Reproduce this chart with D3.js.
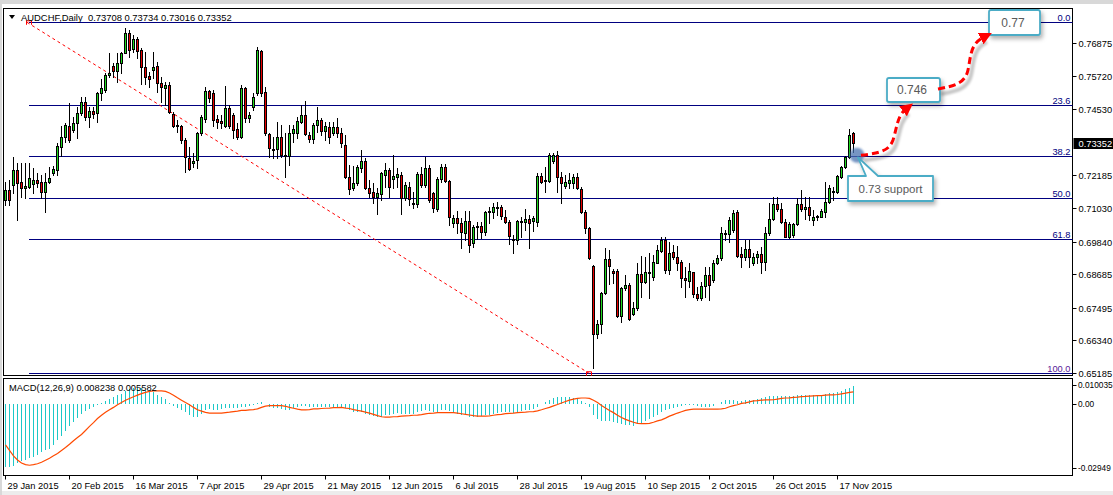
<!DOCTYPE html>
<html><head><meta charset="utf-8">
<script src="https://cdn.jsdelivr.net/npm/d3@7"></script>
<style>
html,body{margin:0;padding:0;background:#fff;overflow:hidden}
svg{display:block}
</style></head><body><svg id="c" width="1113" height="495"></svg>
<script>
// ---------------- DATA ----------------
const symbol = "AUDCHF,Daily";
const lastQuote = [0.73708, 0.73734, 0.73016, 0.73352];
const open = [0.71314,0.71669,0.71846,0.72379,0.71941,0.71728,0.71787,0.71870,0.72024,0.71964,
0.71586,0.71964,0.72284,0.72379,0.73207,0.73562,0.73940,0.73798,0.74058,0.74390,
0.74804,0.74271,0.74484,0.74390,0.75099,0.75218,0.75750,0.76069,0.75904,0.76164,
0.76543,0.77229,0.76661,0.77016,0.76637,0.76022,0.75715,0.75927,0.76069,0.75454,
0.75300,0.75395,0.74366,0.73975,0.73940,0.73443,0.72816,0.72615,0.72733,0.73680,
0.74177,0.75182,0.75123,0.74189,0.74129,0.73940,0.74567,0.74330,0.73822,0.73561,
0.75277,0.74212,0.74626,0.75099,0.76602,0.75135,0.73656,0.73135,0.73112,0.73538,
0.72875,0.72875,0.73680,0.73680,0.74070,0.74330,0.73620,0.73467,0.73975,0.74153,
0.73762,0.73893,0.73703,0.73893,0.73703,0.73265,0.72142,0.71728,0.71905,0.72461,
0.72710,0.71728,0.71609,0.71408,0.71527,0.72201,0.72378,0.72047,0.72142,0.72201,
0.71373,0.71787,0.71219,0.71172,0.72236,0.71846,0.72437,0.71550,0.70982,0.72047,
0.72473,0.71976,0.70485,0.70663,0.70509,0.70154,0.70568,0.69776,0.70344,0.70391,
0.70190,0.70876,0.70888,0.71042,0.71065,0.70698,0.70533,0.69894,0.69894,0.70556,
0.70545,0.70627,0.70556,0.70545,0.72165,0.71988,0.72000,0.72710,0.72911,0.72118,
0.71822,0.71905,0.71905,0.72142,0.71692,0.70900,0.70308,0.68971,0.66546,0.66901,
0.67999,0.69220,0.68794,0.68794,0.67209,0.68191,0.68297,0.67268,0.67469,0.68687,
0.68392,0.68770,0.68593,0.69090,0.69516,0.69894,0.68829,0.69480,0.69279,0.69125,
0.68534,0.68451,0.68747,0.67978,0.67824,0.68262,0.68652,0.68475,0.69066,0.69244,
0.70095,0.70107,0.70249,0.70888,0.69397,0.69279,0.69563,0.69066,0.69279,0.69397,
0.69125,0.70131,0.70639,0.71172,0.70983,0.70545,0.70012,0.70072,0.70462,0.71172,
0.70983,0.71054,0.70604,0.70699,0.70722,0.70900,0.71255,0.71610,0.71610,0.72142,
0.72473,0.72828,0.73708];
const high = [0.71964,0.72024,0.72852,0.72615,0.72615,0.72615,0.72615,0.72438,0.72260,0.72201,
0.72260,0.72497,0.72532,0.73325,0.73940,0.74035,0.74745,0.74271,0.74626,0.74981,
0.74981,0.74603,0.74626,0.75159,0.75596,0.75809,0.76543,0.76188,0.76519,0.76578,
0.77406,0.77347,0.77170,0.77110,0.76696,0.76578,0.75868,0.76555,0.76223,0.75691,
0.75513,0.75513,0.74449,0.74153,0.73975,0.73502,0.73207,0.72970,0.73739,0.74331,
0.75336,0.75218,0.75218,0.74331,0.74330,0.75359,0.74685,0.74389,0.74034,0.75395,
0.75336,0.74449,0.75099,0.76755,0.76637,0.75336,0.73703,0.73561,0.74094,0.73975,
0.73680,0.73975,0.73975,0.74271,0.74685,0.74827,0.73739,0.74034,0.74626,0.74212,
0.74094,0.74094,0.74094,0.74212,0.73857,0.73620,0.72556,0.72520,0.72556,0.73088,
0.72792,0.72024,0.71905,0.71728,0.72319,0.72615,0.72437,0.72911,0.72437,0.72319,
0.71964,0.71964,0.71609,0.72319,0.72497,0.72852,0.72556,0.71609,0.72142,0.72591,
0.72591,0.72023,0.70781,0.70935,0.70663,0.70935,0.70935,0.70426,0.70545,0.70545,
0.70935,0.71077,0.71195,0.71255,0.71136,0.70959,0.70604,0.70072,0.70604,0.70698,
0.70994,0.70781,0.70746,0.72260,0.72284,0.72497,0.72970,0.72993,0.73064,0.72319,
0.72201,0.72260,0.72236,0.72260,0.71787,0.70959,0.70367,0.69007,0.67055,0.68060,
0.69598,0.69539,0.68853,0.68853,0.68238,0.68652,0.68356,0.67705,0.69066,0.69326,
0.69303,0.69421,0.69362,0.69717,0.70012,0.70012,0.69835,0.69717,0.69681,0.69184,
0.68948,0.69066,0.68770,0.68238,0.68415,0.68948,0.68948,0.69184,0.69362,0.70344,
0.70249,0.70722,0.70959,0.70959,0.69658,0.69894,0.69894,0.69421,0.69516,0.69658,
0.70344,0.71195,0.71408,0.71408,0.71195,0.70628,0.70545,0.70486,0.71373,0.71669,
0.71408,0.71408,0.70959,0.70781,0.70983,0.71941,0.71846,0.71787,0.72201,0.72520,
0.72875,0.73822,0.73734];
const low = [0.71136,0.71136,0.71550,0.70604,0.71432,0.71373,0.71728,0.71550,0.71787,0.71373,
0.70900,0.71905,0.72201,0.72201,0.72875,0.73384,0.73384,0.73739,0.73502,0.74331,
0.74153,0.73916,0.74212,0.74094,0.74863,0.75159,0.75691,0.75691,0.75513,0.75809,
0.76519,0.76401,0.76578,0.76342,0.75419,0.75419,0.75336,0.75632,0.75159,0.74804,
0.74685,0.74390,0.73916,0.73739,0.73325,0.72319,0.72379,0.72497,0.72438,0.73621,
0.74094,0.74804,0.73940,0.73857,0.73857,0.73916,0.73857,0.73502,0.73467,0.73502,
0.74094,0.74094,0.74508,0.75040,0.75005,0.73620,0.72852,0.72792,0.72792,0.72852,
0.72142,0.72556,0.73384,0.73502,0.74034,0.73620,0.73384,0.73325,0.73739,0.73620,
0.73443,0.73325,0.73620,0.73561,0.73206,0.72083,0.71527,0.71669,0.71846,0.72319,
0.71692,0.71432,0.71195,0.70817,0.71314,0.71787,0.71432,0.71728,0.71787,0.70817,
0.71314,0.71136,0.71018,0.71077,0.71787,0.71787,0.71255,0.70900,0.70935,0.71964,
0.71964,0.70426,0.70344,0.70131,0.69598,0.69894,0.69480,0.69634,0.69918,0.69953,
0.70072,0.70509,0.70663,0.70781,0.70627,0.70485,0.69752,0.69421,0.69752,0.70012,
0.70249,0.69598,0.70225,0.70391,0.71905,0.71609,0.71964,0.72615,0.71609,0.71195,
0.71728,0.71728,0.71728,0.71692,0.70864,0.70131,0.69208,0.65339,0.66428,0.66582,
0.67977,0.68333,0.68356,0.67173,0.66996,0.68120,0.67055,0.67232,0.67410,0.67883,
0.68356,0.67824,0.68475,0.69066,0.69480,0.68711,0.68688,0.69208,0.68829,0.68238,
0.67883,0.68238,0.67883,0.67765,0.67765,0.67883,0.67765,0.68415,0.69042,0.69184,
0.69894,0.69835,0.70190,0.69303,0.68924,0.69184,0.68948,0.69007,0.69090,0.68711,
0.68829,0.70072,0.70604,0.70935,0.70486,0.69989,0.69953,0.70012,0.70427,0.70935,
0.70628,0.70604,0.70427,0.70604,0.70699,0.70722,0.71195,0.71314,0.71550,0.72083,
0.72438,0.72793,0.73016];
const close = [0.71669,0.71314,0.72379,0.71905,0.71728,0.71811,0.72083,0.72024,0.71929,0.71586,
0.71964,0.72083,0.72402,0.73230,0.73562,0.73975,0.73443,0.74058,0.74390,0.74804,
0.74271,0.74484,0.74366,0.75099,0.75277,0.75750,0.75833,0.75904,0.76164,0.76543,
0.77229,0.76637,0.77016,0.76614,0.76046,0.75691,0.75596,0.76046,0.75454,0.75336,
0.75395,0.74449,0.73940,0.73940,0.73443,0.72828,0.72402,0.72698,0.73704,0.74248,
0.75182,0.74922,0.74153,0.74094,0.74034,0.74567,0.73940,0.73798,0.73561,0.75277,
0.74212,0.74330,0.74981,0.76637,0.75099,0.73680,0.73147,0.73088,0.73538,0.72911,
0.72911,0.73680,0.73822,0.74117,0.74330,0.73656,0.73467,0.73975,0.74153,0.73774,
0.73940,0.73561,0.73893,0.73703,0.73325,0.72142,0.71692,0.71929,0.72497,0.72710,
0.71728,0.71574,0.71432,0.71574,0.72260,0.72378,0.71763,0.72166,0.72236,0.71373,
0.71846,0.71337,0.71172,0.72236,0.71846,0.72437,0.71314,0.71018,0.72047,0.72473,
0.72000,0.70698,0.70663,0.70485,0.70190,0.70568,0.69717,0.70344,0.70391,0.70190,
0.70900,0.70923,0.71053,0.71065,0.70746,0.70533,0.70036,0.69918,0.70568,0.70568,
0.70627,0.70485,0.70675,0.72165,0.71964,0.72023,0.72911,0.72911,0.72118,0.71929,
0.71952,0.72023,0.72142,0.71728,0.70900,0.70308,0.69243,0.66546,0.66901,0.67997,
0.69220,0.68983,0.68735,0.67209,0.68191,0.68297,0.67090,0.67469,0.68687,0.68392,
0.68770,0.68747,0.69125,0.69539,0.69894,0.68829,0.69421,0.69303,0.69090,0.68534,
0.68475,0.68806,0.67978,0.67824,0.68262,0.68652,0.68297,0.69066,0.69267,0.70131,
0.70131,0.70604,0.70864,0.69338,0.69279,0.69563,0.69303,0.69303,0.69397,0.69125,
0.70131,0.70639,0.71172,0.70983,0.70545,0.70012,0.70462,0.70462,0.71172,0.70983,
0.71054,0.70781,0.70722,0.70746,0.70935,0.71255,0.71728,0.71645,0.72166,0.72473,
0.72828,0.73621,0.73352];
const macdMain = [-0.0289,-0.0288,-0.0282,-0.0270,-0.0260,-0.0256,-0.0248,-0.0241,-0.0231,-0.0219,
-0.0212,-0.0204,-0.0187,-0.0164,-0.0146,-0.0124,-0.0102,-0.0080,-0.0063,-0.0044,
-0.0032,-0.0022,-0.0012,-0.0002,0.0007,0.0015,0.0022,0.0032,0.0041,0.0048,
0.0061,0.0070,0.0073,0.0076,0.0073,0.0066,0.0061,0.0055,0.0044,0.0032,
0.0022,0.0003,-0.0007,-0.0018,-0.0026,-0.0037,-0.0051,-0.0061,-0.0058,-0.0044,
-0.0029,-0.0022,-0.0026,-0.0026,-0.0022,-0.0018,-0.0018,-0.0018,-0.0018,-0.0012,
-0.0012,-0.0009,-0.0004,0.0006,0.0009,0.0000,-0.0012,-0.0018,-0.0018,-0.0023,
-0.0029,-0.0026,-0.0020,-0.0015,-0.0009,-0.0009,-0.0015,-0.0015,-0.0012,-0.0012,
-0.0012,-0.0015,-0.0012,-0.0012,-0.0015,-0.0019,-0.0029,-0.0037,-0.0037,-0.0037,
-0.0044,-0.0051,-0.0055,-0.0058,-0.0058,-0.0051,-0.0048,-0.0044,-0.0041,-0.0044,
-0.0044,-0.0044,-0.0044,-0.0038,-0.0032,-0.0029,-0.0032,-0.0037,-0.0037,-0.0029,
-0.0026,-0.0032,-0.0038,-0.0044,-0.0048,-0.0051,-0.0058,-0.0061,-0.0058,-0.0055,
-0.0051,-0.0048,-0.0044,-0.0041,-0.0037,-0.0037,-0.0037,-0.0041,-0.0037,-0.0032,
-0.0026,-0.0026,-0.0022,-0.0012,-0.0001,0.0010,0.0020,0.0029,0.0032,0.0032,
0.0034,0.0032,0.0029,0.0025,0.0015,0.0006,-0.0012,-0.0048,-0.0070,-0.0077,
-0.0077,-0.0077,-0.0082,-0.0088,-0.0092,-0.0095,-0.0096,-0.0099,-0.0092,-0.0085,
-0.0077,-0.0070,-0.0058,-0.0048,-0.0038,-0.0029,-0.0023,-0.0019,-0.0012,-0.0009,
-0.0006,-0.0004,-0.0006,-0.0009,-0.0012,-0.0015,-0.0015,-0.0009,-0.0001,0.0010,
0.0018,0.0020,0.0018,0.0015,0.0015,0.0018,0.0018,0.0020,0.0023,0.0026,
0.0032,0.0035,0.0035,0.0037,0.0038,0.0038,0.0039,0.0039,0.0041,0.0041,
0.0041,0.0041,0.0041,0.0042,0.0044,0.0047,0.0050,0.0053,0.0055,0.0061,
0.0067,0.0076,0.008238];
const macdSignal = [-0.0187,-0.0212,-0.0237,-0.0256,-0.0270,-0.0277,-0.0280,-0.0277,-0.0273,-0.0266,
-0.0257,-0.0248,-0.0237,-0.0226,-0.0212,-0.0199,-0.0184,-0.0168,-0.0153,-0.0139,
-0.0121,-0.0102,-0.0085,-0.0066,-0.0051,-0.0037,-0.0026,-0.0015,-0.0003,0.0007,
0.0018,0.0026,0.0034,0.0041,0.0048,0.0054,0.0058,0.0061,0.0061,0.0061,
0.0058,0.0051,0.0041,0.0029,0.0018,0.0007,-0.0003,-0.0015,-0.0026,-0.0032,
-0.0038,-0.0041,-0.0041,-0.0041,-0.0041,-0.0039,-0.0037,-0.0034,-0.0032,-0.0029,
-0.0029,-0.0026,-0.0025,-0.0022,-0.0015,-0.0009,-0.0007,-0.0007,-0.0007,-0.0007,
-0.0010,-0.0015,-0.0019,-0.0023,-0.0026,-0.0026,-0.0025,-0.0022,-0.0022,-0.0020,
-0.0019,-0.0018,-0.0016,-0.0016,-0.0015,-0.0018,-0.0020,-0.0025,-0.0029,-0.0032,
-0.0037,-0.0041,-0.0047,-0.0053,-0.0058,-0.0060,-0.0060,-0.0058,-0.0057,-0.0055,
-0.0054,-0.0053,-0.0051,-0.0050,-0.0048,-0.0045,-0.0042,-0.0041,-0.0039,-0.0039,
-0.0039,-0.0039,-0.0039,-0.0041,-0.0044,-0.0047,-0.0050,-0.0053,-0.0055,-0.0055,
-0.0055,-0.0054,-0.0051,-0.0048,-0.0047,-0.0044,-0.0042,-0.0041,-0.0039,-0.0038,
-0.0037,-0.0035,-0.0034,-0.0031,-0.0026,-0.0020,-0.0015,-0.0008,-0.0002,0.0005,
0.0012,0.0018,0.0023,0.0026,0.0028,0.0028,0.0026,0.0018,0.0007,-0.0006,
-0.0018,-0.0029,-0.0039,-0.0051,-0.0061,-0.0070,-0.0077,-0.0083,-0.0088,-0.0089,
-0.0089,-0.0088,-0.0083,-0.0077,-0.0072,-0.0064,-0.0055,-0.0048,-0.0041,-0.0035,
-0.0029,-0.0025,-0.0023,-0.0023,-0.0023,-0.0023,-0.0023,-0.0023,-0.0023,-0.0022,
-0.0019,-0.0012,-0.0007,-0.0003,0.0003,0.0006,0.0010,0.0015,0.0016,0.0018,
0.0019,0.0019,0.0020,0.0023,0.0026,0.0028,0.0029,0.0031,0.0032,0.0034,
0.0035,0.0037,0.0038,0.0039,0.0039,0.0041,0.0042,0.0042,0.0044,0.0047,
0.0050,0.0054,0.005582];
const macdName = "MACD(12,26,9)";
const dateLabels = ["29 Jan 2015","20 Feb 2015","16 Mar 2015","7 Apr 2015","29 Apr 2015","21 May 2015",
  "12 Jun 2015","6 Jul 2015","28 Jul 2015","19 Aug 2015","10 Sep 2015","2 Oct 2015","26 Oct 2015","17 Nov 2015"];
const priceTicks = [0.76875,0.75720,0.74530,0.72185,0.71030,0.69840,0.68685,0.67495,0.66340,0.65185];
const macdTicks = [0.010035, 0.00, -0.02949];
const fibLevels = [0.0, 23.6, 38.2, 50.0, 61.8, 100.0];
const fibHigh = 0.77620, fibLow = 0.65165;     // anchor prices
const fibStartBar = 6, fibEndBar = 146;        // anchor bars
const supportText = "0.73 support", supportPrice = 0.7290, supportBar = 212;
const targetTexts = ["0.746", "0.77"];

// ---------------- LAYOUT ----------------
function hasFont(f){
  const c=document.createElement("canvas").getContext("2d");
  c.font="40px monospace"; const a=c.measureText("0.76875 Wide Mm").width;
  c.font='40px "'+f+'", monospace'; return Math.abs(c.measureText("0.76875 Wide Mm").width-a)>0.5;
}
const narrow = hasFont("Liberation Sans Narrow");
const AXF = narrow ? '"Liberation Sans Narrow", "Liberation Sans", sans-serif' : '"Liberation Sans", Arial, sans-serif';
const AXS = narrow ? 11 : 9.3;
const CF = '"Liberation Sans", Arial, sans-serif';

// shrink/grow a text element's font-size so that it spans a given width
function fitWidth(sel, target){
  const node = sel.node(); const len = node.getComputedTextLength();
  if (len > 0) { const fs = parseFloat(sel.attr("font-size")); sel.attr("font-size", (fs*target/len).toFixed(2)); }
}

const W=1113, H=495, L=3.5, R=1072.5, T=8.5, B1=375.5, T2=378.5, B2=475.5;
const n = close.length;
const svg = d3.select("#c");
const x = d3.scaleLinear().domain([0, n-1]).range([5, 5+4*(n-1)]);
const y = d3.scaleLinear().domain([0.65185, 0.76875]).range([372.7, 43.3]);
const ym = d3.scaleLinear().domain([-0.02949, 0.010035]).range([468.5, 382.2]);
const px = i => Math.round(x(i));

const defs = svg.append("defs");
defs.append("filter").attr("id","sh").attr("x","-30%").attr("y","-30%").attr("width","170%").attr("height","190%")
  .append("feDropShadow").attr("dx",2).attr("dy",3).attr("stdDeviation",2).attr("flood-color","#000").attr("flood-opacity",0.3);
defs.append("filter").attr("id","bl").append("feGaussianBlur").attr("stdDeviation",0.8);
defs.append("marker").attr("id","ah").attr("viewBox","0 0 10 10").attr("refX",3).attr("refY",5)
  .attr("markerWidth",4.2).attr("markerHeight",4.2).attr("orient","auto")
  .append("path").attr("d","M0,0 L10,5 L0,10 z").attr("fill","#ff0000");

// window chrome
svg.append("rect").attr("x",0).attr("y",0).attr("width",W).attr("height",H).attr("fill","#fff");
svg.append("rect").attr("x",0).attr("y",0).attr("width",W).attr("height",4).attr("fill","#d8d8d8");
svg.append("rect").attr("x",0).attr("y",491).attr("width",W).attr("height",4).attr("fill","#ececec");
svg.append("rect").attr("x",0).attr("y",0).attr("width",2).attr("height",H).attr("fill","#d8d8d8");

// panels
svg.append("rect").attr("x",L).attr("y",T).attr("width",R-L).attr("height",B1-T).attr("fill","none").attr("stroke","#000");
svg.append("rect").attr("x",L).attr("y",T2).attr("width",R-L).attr("height",B2-T2).attr("fill","none").attr("stroke","#000");

// fibonacci levels
const fibG = svg.append("g");
const fibPrice = lv => fibHigh - (fibHigh - fibLow) * lv / 100;
fibLevels.forEach(lv => {
  const yy = Math.round(y(fibPrice(lv))) + 0.5;
  fibG.append("line").attr("x1", x(fibStartBar)).attr("x2", R).attr("y1", yy).attr("y2", yy)
    .attr("stroke", "#000080").attr("stroke-width", 1);
  fibG.append("text").attr("x", R-2).attr("y", yy-2).attr("text-anchor","end")
    .attr("font-family", AXF).attr("font-size", AXS).attr("fill", lv===100 ? "#5a1a9a" : "#000080")
    .text(lv.toFixed(1));
});
svg.append("line").attr("x1", x(fibStartBar)-2).attr("y1", y(fibHigh)).attr("x2", x(fibEndBar)).attr("y2", y(fibLow))
  .attr("stroke","#ff0000").attr("stroke-width",1).attr("stroke-dasharray","3,3");
[[fibStartBar, fibHigh],[fibEndBar, fibLow]].forEach(([b,p]) => {
  svg.append("path").attr("d", `M${x(b)-2.5},${y(p)+2.5} v-4 h5 v4`).attr("fill","none").attr("stroke","#ff0000").attr("stroke-width",1);
});

// candles
const bars = d3.range(n).map(i => ({i, o:open[i], h:high[i], l:low[i], c:close[i]}));
const cg = svg.append("g");
cg.selectAll("line").data(bars).join("line")
  .attr("x1", d => px(d.i)+0.5).attr("x2", d => px(d.i)+0.5)
  .attr("y1", d => Math.round(y(d.h))).attr("y2", d => Math.round(y(d.l))+1)
  .attr("stroke", "#000").attr("stroke-width", 1);
cg.selectAll("rect").data(bars).join("rect")
  .attr("x", d => px(d.i)-0.5).attr("width", 2)
  .attr("y", d => Math.round(y(Math.max(d.o,d.c)))+0.5)
  .attr("height", d => Math.max(1, Math.round(y(Math.min(d.o,d.c))) - Math.round(y(Math.max(d.o,d.c)))))
  .attr("fill", d => d.c >= d.o ? "#1fd81f" : "#e80000")
  .attr("stroke", "#000").attr("stroke-width", 1);

// header
svg.append("path").attr("d","M9,15 L15,15 L12,19 Z").attr("fill","#000");
const hdr = svg.append("text").attr("x",21).attr("y",21).attr("font-family",CF).attr("font-size",10).attr("fill","#000")
  .style("white-space","pre")
  .text(symbol + "  " + lastQuote.map(v=>v.toFixed(5)).join(" "));
fitWidth(hdr, 211);

// price axis
const ax = svg.append("g");
priceTicks.forEach(v => {
  const yy = Math.round(y(v)) + 0.5;
  ax.append("line").attr("x1",R).attr("x2",R+4).attr("y1",yy).attr("y2",yy).attr("stroke","#000");
  ax.append("text").attr("x",R+6).attr("y",yy).attr("dy","0.36em").attr("font-family",AXF).attr("font-size",AXS).attr("fill","#000").text(v.toFixed(5));
});
{
  const v = lastQuote[3], yy = Math.round(y(v)) + 0.5;
  ax.append("rect").attr("x",R+1).attr("y",yy-5.5).attr("width",W-R).attr("height",11).attr("fill","#000");
  ax.append("text").attr("x",R+6).attr("y",yy).attr("dy","0.36em").attr("font-family",AXF).attr("font-size",AXS).attr("fill","#fff").text(v.toFixed(5));
}

// MACD
const mg = svg.append("g");
const z = Math.round(ym(0));
mg.selectAll("line").data(d3.range(n)).join("line")
  .attr("x1", i => px(i)+0.5).attr("x2", i => px(i)+0.5)
  .attr("y1", z).attr("y2", i => Math.round(ym(macdMain[i])))
  .attr("stroke", "#1cc8c8").attr("stroke-width", 1);
mg.append("path").datum(d3.range(n))
  .attr("d", d3.line().x(i => px(i)+0.5).y(i => ym(macdSignal[i])))
  .attr("fill","none").attr("stroke","#ff4a00").attr("stroke-width",1.2);
const mt = svg.append("text").attr("x",9).attr("y",391).attr("font-family",CF).attr("font-size",10).attr("fill","#000")
  .text(macdName + " " + macdMain[n-1].toFixed(6) + " " + macdSignal[n-1].toFixed(6));
fitWidth(mt, 148);
macdTicks.forEach(v => {
  const yy = Math.min(Math.max(Math.round(ym(v)), 385), 468) + 0.5;
  ax.append("line").attr("x1",R).attr("x2",R+4).attr("y1",yy).attr("y2",yy).attr("stroke","#000");
  ax.append("text").attr("x",R+5.5).attr("y",yy).attr("dy","0.36em").attr("font-family",AXF).attr("font-size",AXS-1)
    .attr("fill","#000").text(v === 0 ? "0.00" : String(v));
});

// date axis
dateLabels.forEach((lab, k) => {
  const xx = px(16*k) + 0.5;
  svg.append("line").attr("x1",xx).attr("x2",xx).attr("y1",B2).attr("y2",B2+4).attr("stroke","#000");
  svg.append("text").attr("x",xx+2).attr("y",489).attr("font-family",AXF).attr("font-size",AXS).attr("fill","#000").text(lab);
});

// annotations
const an = svg.append("g");
const sx = x(supportBar)+4, sy = y(supportPrice);
an.append("circle").attr("cx", sx).attr("cy", sy).attr("r", 7.5).attr("fill","#4a72b0").attr("opacity",0.75).attr("filter","url(#bl)");
an.append("path").attr("d", `M848,176 L866,176 L${sx+1},${sy+2} L878,176 L933,176 L933,201 L848,201 Z`)
  .attr("fill","#fff").attr("stroke","#4bacc6").attr("stroke-width",1.8).attr("stroke-linejoin","round").attr("filter","url(#sh)");
an.append("text").attr("x",890.5).attr("y",189).attr("dy","0.36em").attr("text-anchor","middle")
  .attr("font-family",CF).attr("font-size",11.5).attr("fill","#595959").text(supportText);
const boxes = [{x0:887,y0:78,x1:940,y1:102,t:targetTexts[0]},{x0:989,y0:10,x1:1040,y1:35,t:targetTexts[1]}];
boxes.forEach(b => {
  an.append("rect").attr("x",b.x0).attr("y",b.y0).attr("width",b.x1-b.x0).attr("height",b.y1-b.y0).attr("rx",2)
    .attr("fill","#fff").attr("stroke","#4bacc6").attr("stroke-width",1.8).attr("filter","url(#sh)");
  an.append("text").attr("x",(b.x0+b.x1)/2-1.5).attr("y",(b.y0+b.y1)/2).attr("dy","0.36em").attr("text-anchor","middle")
    .attr("font-family",CF).attr("font-size",12).attr("fill","#595959").text(b.t);
});
const arrows = [
  `M${sx+4},${sy} C880,153 889,151 893,140 C897,128 897,116 906,109`,
  "M938,89 C953,86 965,84 968,70 C971,56 970,44 984,37"
];
arrows.forEach(d => {
  an.append("path").attr("d", d).attr("fill","none").attr("stroke","#000").attr("stroke-opacity",0.22)
    .attr("stroke-width",4).attr("transform","translate(3,5)").attr("filter","url(#bl)");
  an.append("path").attr("d", d).attr("fill","none").attr("stroke","#ff0000").attr("stroke-width",3)
    .attr("stroke-dasharray","7,4").attr("marker-end","url(#ah)");
});
</script></body></html>
